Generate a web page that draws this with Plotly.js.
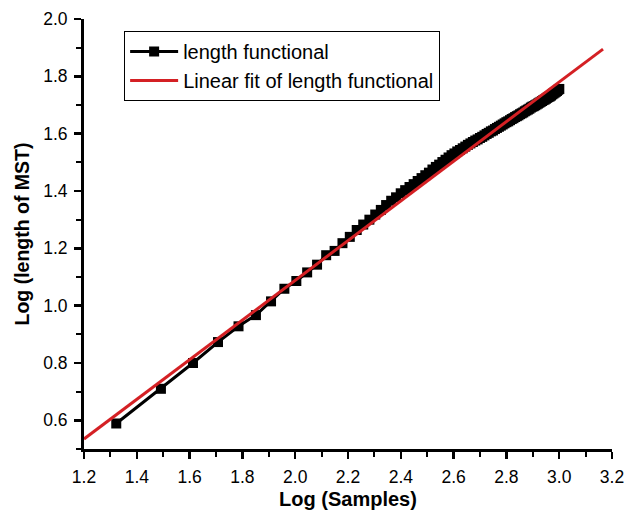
<!DOCTYPE html>
<html>
<head>
<meta charset="utf-8">
<script src="https://cdn.plot.ly/plotly-3.0.1.min.js"></script>
<style>html,body{margin:0;padding:0;background:#fff;}#chart{width:636px;height:515px;}</style>
</head>
<body>
<div id="chart"></div>
<script>
// Log(Samples)
var logSamples = [
1.3222,1.4914,1.6128,1.7076,1.7853,1.8513,1.9085,1.9590,2.0043,2.0453,
2.0828,2.1173,2.1492,2.1790,2.2068,2.2330,2.2577,2.2810,2.3032,2.3243,
2.3444,2.3636,2.3820,2.3997,2.4166,2.4330,2.4487,2.4639,2.4786,2.4928,
2.5065,2.5198,2.5328,2.5453,2.5575,2.5694,2.5809,2.5922,2.6031,2.6138,
2.6243,2.6345,2.6444,2.6542,2.6637,2.6730,2.6821,2.6911,2.6998,2.7084,
2.7168,2.7251,2.7332,2.7412,2.7490,2.7566,2.7642,2.7716,2.7789,2.7860,
2.7931,2.8000,2.8069,2.8136,2.8202,2.8267,2.8331,2.8395,2.8457,2.8519,
2.8579,2.8639,2.8698,2.8756,2.8814,2.8871,2.8927,2.8982,2.9036,2.9090,
2.9143,2.9196,2.9248,2.9299,2.9350,2.9400,2.9450,2.9499,2.9547,2.9595,
2.9643,2.9689,2.9736,2.9782,2.9827,2.9872,2.9917,2.9961,3.0004
];
// Log(length of MST)
var logLength = [
0.589,0.710,0.800,0.873,0.928,0.967,1.015,1.059,1.086,1.116,
1.143,1.176,1.191,1.218,1.240,1.264,1.283,1.300,1.318,1.334,
1.351,1.366,1.378,1.392,1.403,1.414,1.424,1.435,1.445,1.455,
1.464,1.475,1.484,1.492,1.501,1.509,1.517,1.525,1.531,1.538,
1.543,1.549,1.555,1.561,1.566,1.571,1.576,1.580,1.585,1.589,
1.594,1.599,1.603,1.608,1.611,1.616,1.620,1.624,1.628,1.632,
1.636,1.640,1.643,1.647,1.651,1.654,1.658,1.661,1.664,1.668,
1.671,1.674,1.678,1.681,1.684,1.687,1.691,1.694,1.696,1.699,
1.702,1.705,1.708,1.711,1.714,1.717,1.719,1.722,1.725,1.728,
1.730,1.733,1.737,1.740,1.743,1.746,1.749,1.753,1.756
];
// Linear fit endpoints
var fitX = [1.2, 3.166];
var fitY = [0.535, 1.895];

var seriesNames = ['length functional', 'Linear fit of length functional'];
var xTitle = 'Log (Samples)';
var yTitle = 'Log (length of MST)';

var font = '"Liberation Sans", Arial, sans-serif';

var traces = [
  {
    x: logSamples, y: logLength, type: 'scatter', mode: 'lines+markers',
    name: seriesNames[0],
    line: {color: '#000000', width: 3},
    marker: {symbol: 'square', size: 10, color: '#000000'}
  },
  {
    x: fitX, y: fitY, type: 'scatter', mode: 'lines',
    name: seriesNames[1],
    line: {color: '#d42024', width: 3}
  }
];

var axisCommon = {
  showline: true, linecolor: '#000', linewidth: 3,
  showgrid: false, zeroline: false,
  ticks: 'outside', ticklen: 7, tickwidth: 2.5, tickcolor: '#000',
  tickfont: {family: font, size: 17.5, color: '#000'},
  ticklabelstandoff: 3,
  dtick: 0.2, tickformat: '.1f',
  minor: {ticks: 'outside', ticklen: 5, tickwidth: 2, tickcolor: '#000', dtick: 0.1, showgrid: false}
};

var layout = {
  width: 636, height: 515,
  margin: {l: 84, r: 24, t: 19, b: 66},
  paper_bgcolor: '#fff', plot_bgcolor: '#fff',
  showlegend: true,
  legend: {
    x: 0.076, y: 0.972, xanchor: 'left', yanchor: 'top',
    bordercolor: '#000', borderwidth: 1, bgcolor: '#fff',
    font: {family: font, size: 20, color: '#000'},
    itemwidth: 48, tracegroupgap: 0
  },
  xaxis: Object.assign({}, axisCommon, {
    range: [1.2, 3.2],
    tick0: 1.2,
    title: {text: xTitle, font: {family: font, size: 20, color: '#000', weight: 'bold'}, standoff: 6}
  }),
  yaxis: Object.assign({}, axisCommon, {
    range: [0.5, 2.0],
    tick0: 0.6,
    title: {text: yTitle, font: {family: font, size: 19.5, color: '#000', weight: 'bold'}, standoff: 9}
  })
};

Plotly.newPlot('chart', traces, layout, {displayModeBar: false, staticPlot: true});
</script>
</body>
</html>
